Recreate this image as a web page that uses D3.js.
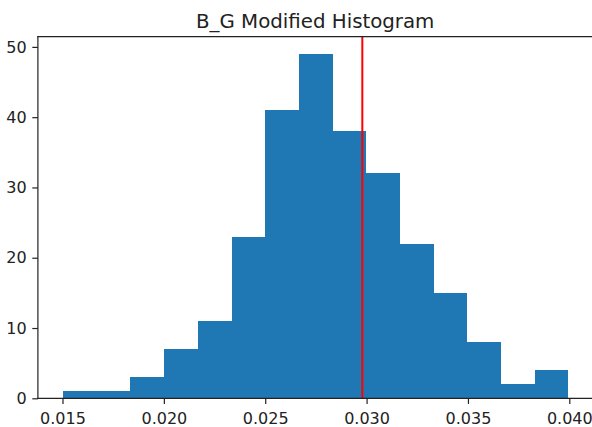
<!DOCTYPE html>
<html>
<head>
<meta charset="utf-8">
<script src="https://cdn.jsdelivr.net/npm/d3@7"></script>
<style>
html,body{margin:0;padding:0;background:#fff;}
svg{display:block;}
text{font-family:"DejaVu Sans",sans-serif;}
</style>
</head>
<body>
<svg id="chart" width="592" height="427"></svg>
<script>
// ---- data ----
const binEdges = [0.01503, 0.016691, 0.018353, 0.020014, 0.021675, 0.023337, 0.024998,
                  0.026659, 0.028320, 0.029982, 0.031643, 0.033304, 0.034966, 0.036627,
                  0.038288, 0.039950];
const counts = [1, 1, 3, 7, 11, 23, 41, 49, 38, 32, 22, 15, 8, 2, 4];
const markerValue = 0.02979;
const xTicks = [0.015, 0.020, 0.025, 0.030, 0.035, 0.040];
const yTicks = [0, 10, 20, 30, 40, 50];
const xLimits = [0.013787, 0.041144];
const yLimits = [0, 51.45];
const chartTitle = "B_G Modified Histogram";

// ---- layout ----
const pL = 37.9, pR = 592.5, pT = 36.7, pB = 398.3;
const svg = d3.select("#chart");
const x = d3.scaleLinear().domain(xLimits).range([pL, pR]);
const y = d3.scaleLinear().domain(yLimits).range([pB, pT]);

const bins = counts.map((c, i) => ({x0: binEdges[i], x1: binEdges[i + 1], n: c}));

svg.append("g").attr("shape-rendering", "crispEdges")
  .selectAll("rect").data(bins).join("rect")
  .attr("x", d => x(d.x0))
  .attr("width", d => x(d.x1) - x(d.x0))
  .attr("y", d => y(d.n))
  .attr("height", d => y(0) - y(d.n))
  .attr("fill", "#1f77b4");

// red vertical line
svg.append("line")
  .attr("x1", x(markerValue)).attr("x2", x(markerValue))
  .attr("y1", pT).attr("y2", pB)
  .attr("stroke", "#ff0000").attr("stroke-width", 2);

// axes
const tickLen = 5.6, pad = 5.6, fs = 16;
const xAxis = svg.append("g").attr("transform", `translate(0,${pB})`)
  .call(d3.axisBottom(x).tickValues(xTicks).tickFormat(d3.format(".3f"))
    .tickSize(tickLen).tickPadding(pad).tickSizeOuter(0));
const yAxis = svg.append("g").attr("transform", `translate(${pL},0)`)
  .call(d3.axisLeft(y).tickValues(yTicks).tickFormat(d3.format("d"))
    .tickSize(tickLen).tickPadding(pad).tickSizeOuter(0));
[xAxis, yAxis].forEach(g => {
  g.select(".domain").remove();
  g.selectAll(".tick line").attr("stroke", "#222").attr("stroke-width", 1.2);
  g.selectAll(".tick text").attr("fill", "#222")
    .style("font-family", "'DejaVu Sans', sans-serif").style("font-size", fs + "px");
});
xAxis.selectAll(".tick text").attr("y", 26).attr("dy", 0);

// spines (right spine lies just outside the picture)
const spine = (x1, y1, x2, y2) => svg.append("line")
  .attr("x1", x1).attr("y1", y1).attr("x2", x2).attr("y2", y2)
  .attr("stroke", "#222").attr("stroke-width", 1.2).attr("stroke-linecap", "square");
spine(pL, pT, pL, pB);
spine(pL, pB, pR, pB);
spine(pL, pT, pR, pT);

// title
svg.append("text")
  .attr("x", (pL + pR) / 2).attr("y", 28.3)
  .attr("text-anchor", "middle")
  .style("font-size", "19.8px").attr("fill", "#222")
  .text(chartTitle);
</script>
</body>
</html>
